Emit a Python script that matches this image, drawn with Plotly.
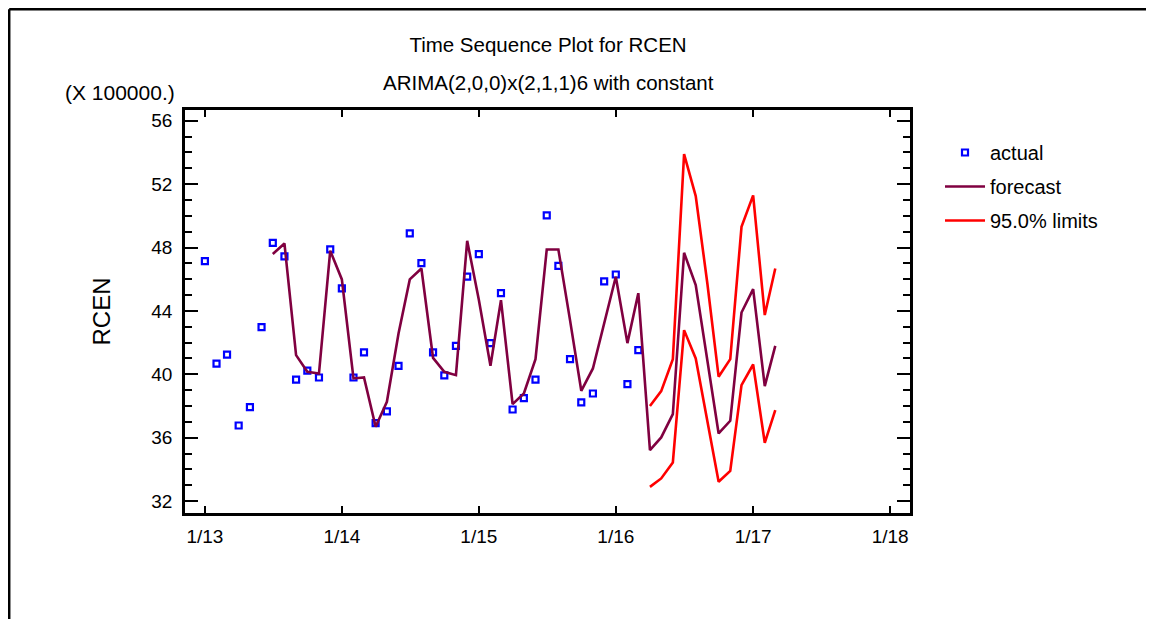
import plotly.graph_objects as go
import pandas as pd

# ---- data (values in units of 100000) ----
actual_dates = pd.date_range("2013-01-01", periods=39, freq="MS")
actual_values = [
    47.14, 40.67, 41.25, 36.77, 37.93, 42.98, 48.30, 47.44, 39.66, 40.24, 39.80, 47.88,
    45.42, 39.80, 41.38, 36.92, 37.66, 40.54, 48.89, 47.02, 41.38, 39.93, 41.80, 46.16,
    47.59, 41.97, 45.12, 37.78, 38.50, 39.66, 50.03, 46.85, 40.96, 38.23, 38.79, 45.86,
    46.30, 39.38, 41.53,
]

forecast_dates = pd.date_range("2013-07-01", periods=45, freq="MS")
forecast_values = [
    47.59, 48.26, 41.21, 40.16, 40.05, 47.80,
    45.99, 39.74, 39.80, 36.69, 38.27, 42.58, 45.99, 46.68, 41.04, 40.16, 39.95, 48.43,
    44.70, 40.54, 44.68, 38.12, 38.79, 40.96, 47.88, 47.88, 43.42, 38.96, 40.37, 43.27,
    46.16, 41.97, 45.12, 35.22, 36.02, 37.49, 47.67, 45.63, 40.90, 36.27, 37.07, 43.90,
    45.38, 39.26, 41.80,
]

limit_dates = pd.date_range("2016-04-01", periods=12, freq="MS")
upper_limit = [38.00, 38.94, 40.96, 53.90, 51.25, 45.73, 39.85, 40.96, 49.31, 51.29, 43.74, 46.68]
lower_limit = [32.90, 33.43, 34.44, 42.79, 41.00, 37.11, 33.22, 33.91, 39.32, 40.62, 35.68, 37.74]

year_ticks = pd.date_range("2013-01-01", "2018-01-01", freq="YS")
year_labels = ["1/13", "1/14", "1/15", "1/16", "1/17", "1/18"]

FONT = "Liberation Sans, Arial, sans-serif"

# plot-area pixel geometry in page coordinates (page has an 8px body margin)
L, R, T, B = 185, 910, 110, 513
PW, PH = R - L, B - T


def px(x):
    return (x - L) / PW


def py(y):
    return (B - y) / PH


fig = go.Figure()
fig.add_trace(go.Scatter(
    x=actual_dates, y=actual_values, mode="markers", name="actual",
    marker=dict(symbol="square-open", size=6, color="#0000ff", line=dict(width=2.2, color="#0000ff")),
    legendgroup="a",
))
fig.add_trace(go.Scatter(
    x=forecast_dates, y=forecast_values, mode="lines", name="forecast",
    line=dict(color="#800040", width=2.6), legendgroup="f",
))
fig.add_trace(go.Scatter(
    x=limit_dates, y=upper_limit, mode="lines", name="95.0% limits",
    line=dict(color="#ff0000", width=2.6), legendgroup="l",
))
fig.add_trace(go.Scatter(
    x=limit_dates, y=lower_limit, mode="lines", name="95.0% limits",
    line=dict(color="#ff0000", width=2.6), legendgroup="l", showlegend=False,
))

fig.update_layout(
    width=1154, height=619,
    margin=dict(l=L - 8, r=1154 - R + 8, t=T - 8, b=619 - B + 8),
    paper_bgcolor="white", plot_bgcolor="white",
    font=dict(family=FONT, size=19, color="black"),
    showlegend=True,
    legend=dict(x=px(940), y=py(133), xanchor="left", yanchor="top",
                font=dict(size=20), tracegroupgap=5, itemwidth=40,
                bgcolor="rgba(0,0,0,0)"),
    title=dict(text="Time Sequence Plot for RCEN", x=0.5007, xref="paper",
               y=1 - 37 / 619, yref="container", xanchor="center", yanchor="middle",
               font=dict(size=20.5)),
    annotations=[
        dict(text="ARIMA(2,0,0)x(2,1,1)6 with constant", x=0.5007, y=py(83),
             xref="paper", yref="paper", xanchor="center", yanchor="middle",
             showarrow=False, font=dict(size=20.5)),
        dict(text="(X 100000.)", x=px(120), y=py(93),
             xref="paper", yref="paper", xanchor="center", yanchor="middle",
             showarrow=False, font=dict(size=21)),
    ],
    shapes=[
        dict(type="line", xref="paper", yref="paper",
             x0=px(9.2), x1=px(1160), y0=py(9.2), y1=py(9.2),
             line=dict(color="black", width=2.5)),
        dict(type="line", xref="paper", yref="paper",
             x0=px(9.2), x1=px(9.2), y0=py(9.2), y1=py(630),
             line=dict(color="black", width=2.5)),
    ],
)

fig.update_xaxes(
    type="date", range=["2012-11-09", "2018-02-23"],
    tickvals=year_ticks, ticktext=year_labels,
    ticks="inside", ticklen=7, tickwidth=2, tickcolor="black",
    showline=True, linewidth=2.5, linecolor="black", mirror="ticks",
    showgrid=False, zeroline=False, ticklabelstandoff=4,
    tickfont=dict(size=19),
)
fig.update_yaxes(
    range=[31.25, 56.68], tick0=32, dtick=4,
    ticks="inside", ticklen=13, tickwidth=2, tickcolor="black",
    minor=dict(dtick=1, ticks="inside", ticklen=7, tickwidth=2, tickcolor="black", showgrid=False),
    showline=True, linewidth=2.5, linecolor="black", mirror="ticks",
    showgrid=False, zeroline=False, ticklabelstandoff=6,
    tickfont=dict(size=19),
    title=dict(text="RCEN", font=dict(size=24), standoff=34),
)

fig.write_html("out.html")
